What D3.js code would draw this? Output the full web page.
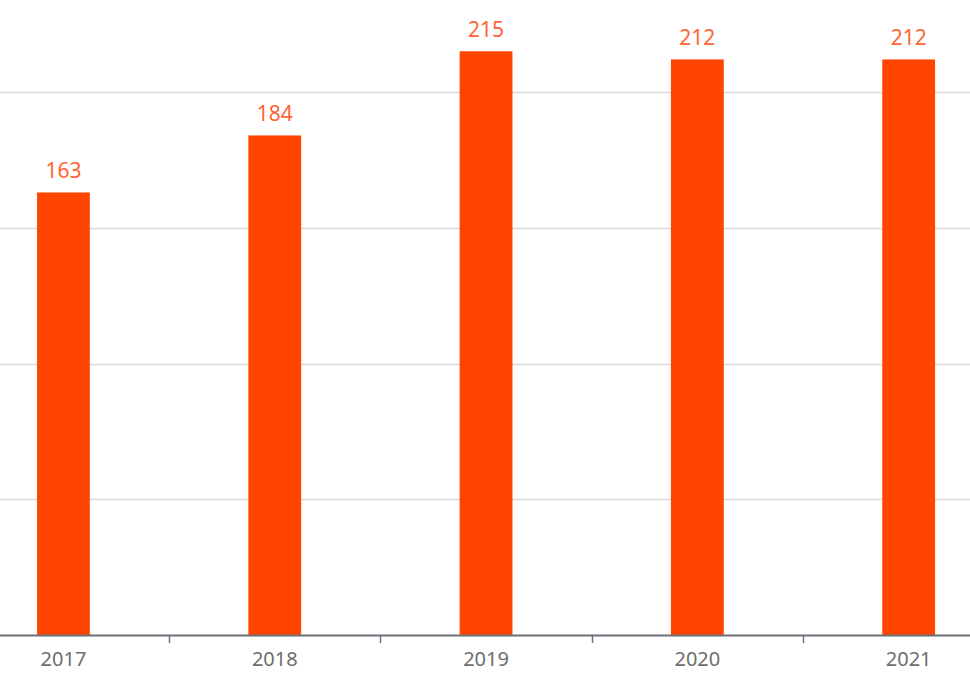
<!DOCTYPE html>
<html>
<head>
<meta charset="utf-8">
<script src="https://cdn.jsdelivr.net/npm/d3@7/dist/d3.min.js"></script>
<style>
  html, body { margin: 0; padding: 0; background: #fff; }
  svg { display: block; }
</style>
</head>
<body>
<svg id="chart" width="970" height="676"></svg>
<script>
// MARK: Data.

const years  = ['2017', '2018', '2019', '2020', '2021']
const values = [163, 184, 215, 212, 212]
const gridTicks = [0, 50, 100, 150, 200, 250]

// MARK: Layout constants.

const WIDTH     = 970
const HEIGHT    = 676
const BASELINE  = 635
const BAR_COLOR = '#ff4500'
const FONT      = '"Noto Sans", "Open Sans", sans-serif'

const svg = d3.select('#chart')

// The chart is cropped: the band range runs past both edges of the picture.
const x = d3.scaleBand()
  .domain(years)
  .range([-42.2, 1014.3])
  .padding(0)

const y = d3.scaleLinear()
  .domain([0, 250])
  .range([BASELINE, BASELINE - 250 * 2.715])

const barWidth = x.bandwidth() * 0.25

// Grid lines.
svg.append('g')
  .selectAll('line')
  .data(gridTicks.filter((t) => t > 0))
  .enter().append('line')
  .attr('x1', 0)
  .attr('x2', WIDTH)
  .attr('y1', (d) => Math.round(y(d)) + 0.5)
  .attr('y2', (d) => Math.round(y(d)) + 0.5)
  .attr('stroke', '#dadada')
  .attr('stroke-width', 1.5)

// Bars.
svg.append('g')
  .selectAll('rect')
  .data(years)
  .enter().append('rect')
  .attr('x', (d) => x(d) + x.bandwidth() / 2 - barWidth / 2)
  .attr('y', (d, i) => y(values[i]))
  .attr('width', barWidth)
  .attr('height', (d, i) => BASELINE - y(values[i]))
  .attr('fill', BAR_COLOR)

// Value labels.
svg.append('g')
  .selectAll('text')
  .data(years)
  .enter().append('text')
  .attr('x', (d) => x(d) + x.bandwidth() / 2)
  .attr('y', (d, i) => y(values[i]) - 14)
  .attr('text-anchor', 'middle')
  .attr('font-family', FONT)
  .attr('font-size', 21)
  .attr('fill', '#ff6434')
  .text((d, i) => values[i])

// X axis.
const xAxis = svg.append('g')
  .attr('transform', `translate(0, ${BASELINE})`)
  .call(d3.axisBottom(x).tickSize(0).tickPadding(0))

xAxis.select('.domain').remove()
xAxis.append('line')
  .attr('x1', 0)
  .attr('x2', WIDTH)
  .attr('y1', 0.5)
  .attr('y2', 0.5)
  .attr('stroke', '#6e7079')
  .attr('stroke-width', 2)

// Tick marks sit between categories.
xAxis.selectAll('line.sep')
  .data(years.slice(1))
  .enter().append('line')
  .attr('class', 'sep')
  .attr('x1', (d) => Math.round(x(d)) + 0.5)
  .attr('x2', (d) => Math.round(x(d)) + 0.5)
  .attr('y1', 0)
  .attr('y2', 8)
  .attr('stroke', '#6e7079')
  .attr('stroke-width', 1.5)

xAxis.selectAll('.tick text')
  .attr('y', 31)
  .attr('dy', 0)
  .attr('font-family', FONT)
  .attr('font-size', 20)
  .attr('fill', '#6e6e6e')
</script>
</body>
</html>
